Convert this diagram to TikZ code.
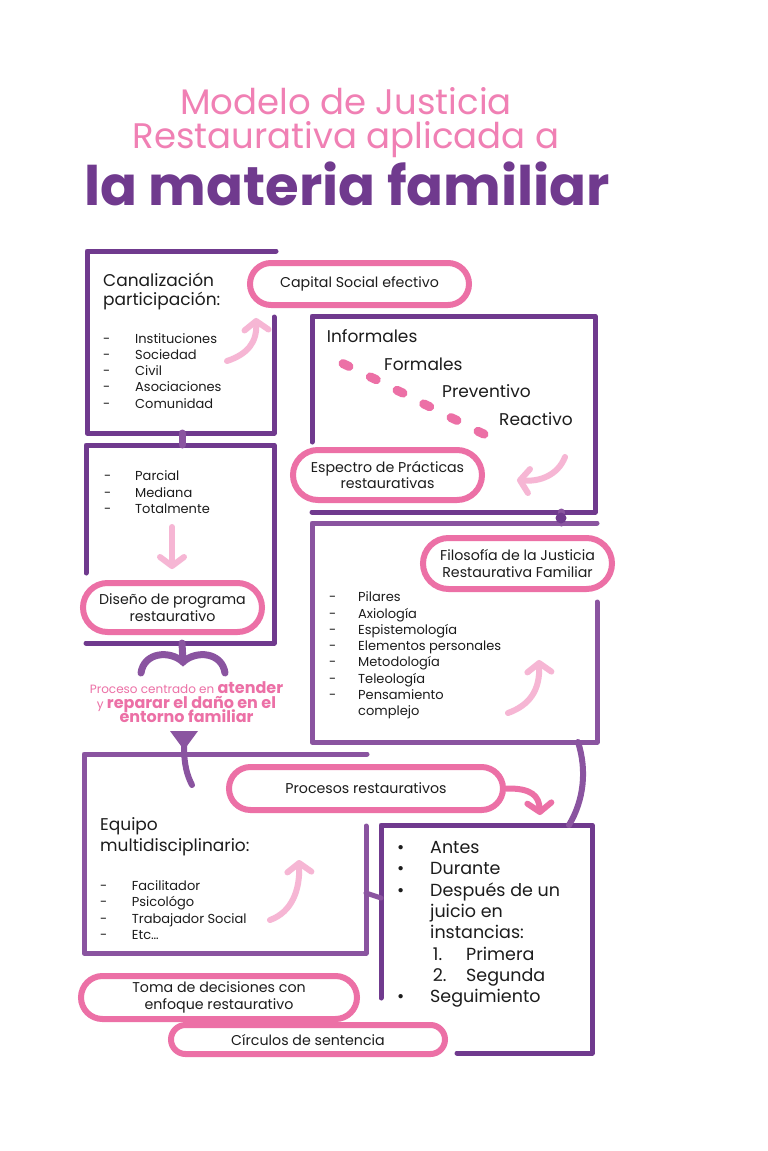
\documentclass[tikz,border=0pt]{standalone}
\usepackage{fontspec}
\setmainfont{Poppins}
\usepackage{tikz}
\usetikzlibrary{arrows.meta}
\definecolor{jrpink}{RGB}{236,112,166}
\definecolor{jrtitle}{RGB}{240,128,180}
\definecolor{jrsoft}{RGB}{246,182,212}
\definecolor{jrpurple}{RGB}{112,58,142}
\definecolor{jrlilac}{RGB}{138,84,160}
\definecolor{jrtext}{RGB}{28,28,28}

\begin{document}
\begin{tikzpicture}[x=1pt, y=-1pt,
    frame/.style={draw=jrpurple, line width=5pt, line cap=round, line join=round},
    lframe/.style={frame, draw=jrlilac},
    link/.style={draw=jrlilac, line width=7pt, line cap=round},
    pill/.style={draw=jrpink, line width=6pt, fill=white, rounded corners=#1, align=center, inner sep=0pt, text=jrtext, font=\fontsize{14.2}{16.5}\selectfont},
    pill/.default=21pt,
    softarrow/.style={draw=jrsoft, line width=6pt, line cap=round, -{Straight Barb[round, length=9pt, width=24pt]}},
    pinkarrow/.style={softarrow, draw=jrpink},
    head/.style={anchor=base west, inner sep=0pt, text=jrtext, font=\fontsize{17}{20}\selectfont},
    entry/.style={anchor=base west, inner sep=0pt, text=jrtext, font=\fontsize{13}{16}\selectfont},
    big/.style={anchor=base west, inner sep=0pt, text=jrtext, font=\fontsize{17.5}{21}\selectfont}
  ]
  \fill[white] (0,0) rectangle (768,1151);
  \useasboundingbox (0,0) rectangle (768,1151);

  % title
  \node[anchor=base, text=jrtitle, text depth=0pt, font=\fontsize{35.5}{38}\selectfont] (t1) at (346,114) {Modelo de Justicia};
  \node[anchor=base, text=jrtitle, text height=25pt, text depth=0pt, font=\fontsize{35.5}{38}\selectfont] (t2) at (346,148) {Restaurativa aplicada a};
  \node[anchor=base, text=jrpurple, text height=40pt, font=\fontsize{54.5}{58}\selectfont\bfseries] (t3) at (347,205) {la materia familiar};

  % frames
  \draw[frame] (276,251) -- (87,251) -- (87,433) -- (274,433) -- (274,317);
  \draw[frame] (86,573) -- (86,445) -- (274,445) -- (274,643) -- (86,643);
  \draw[frame] (312,442) -- (312,316) -- (595,316) -- (595,512) -- (312,512);
  \draw[lframe] (597,602) -- (597,742) -- (312,742) -- (312,523) -- (597,523);
  \draw[lframe] (367,754) -- (84,754) -- (84,953) -- (366,953) -- (366,826);
  \draw[frame] (457,1053) -- (592,1053) -- (592,825) -- (381,825) -- (381,998);

  % links between frames
  \coordinate (a-s) at (182,433);
  \coordinate (b-n) at (182,445);
  \coordinate (b-s) at (182,643);
  \coordinate (br) at (183,662);
  \coordinate (c-s) at (561,512);
  \coordinate (d-n) at (561,523);
  \coordinate (d-s) at (578,742);
  \coordinate (f-n) at (569,825);
  \coordinate (e-e) at (366,893);
  \coordinate (f-w) at (381,898);
  \coordinate (fun) at (184,745);
  \coordinate (e-n) at (192,785);
  \draw[link] (a-s) -- (b-n);
  \draw[link] (b-s) -- (br);
  \draw[link] (c-s) -- (d-n);
  \fill[jrpurple] (561,518) circle[radius=5.5pt];
  \draw[link, line width=5pt] (e-e) -- (f-w);
  \draw[link, line width=6pt] (d-s) .. controls (587,770) and (584,800) .. (f-n);
  \draw[link] (141,673) .. controls (144,652) and (170,650) .. (br)
                        .. controls (196,650) and (222,652) .. (225,673);
  \fill[jrlilac] (170,731) -- (198,731) -- (184,750) -- cycle;
  \draw[link, line width=6pt] (fun) .. controls (184,765) and (187,775) .. (e-n);

  % pills
  \node[pill, minimum width=219pt, minimum height=42pt] (capital) at (359.5,284) {Capital Social efectivo};
  \node[pill=25pt, minimum width=189pt, minimum height=50pt] (espectro) at (387.5,475) {Espectro de Prácticas\\restaurativas};
  \node[pill=24.5pt, minimum width=179pt, minimum height=49pt] (diseno) at (172.5,607.5) {Diseño de programa\\restaurativo};
  \node[pill=25.5pt, minimum width=189pt, minimum height=51pt] (filosofia) at (517.5,563.5) {Filosofía de la Justicia\\Restaurativa Familiar};
  \node[pill=21.5pt, minimum width=274pt, minimum height=43pt] (procesos) at (366,788.5) {Procesos restaurativos};
  \node[pill=21.5pt, minimum width=276pt, minimum height=43pt] (toma) at (219,997.5) {Toma de decisiones con\\enfoque restaurativo};
  \node[pill=14.5pt, minimum width=274pt, minimum height=29pt] (circulos) at (308,1039.5) {Círculos de sentencia};

  % arrows
  \coordinate (sa1) at (227,361);
  \coordinate (sa1e) at (256,318);
  \coordinate (sa2) at (565,457);
  \coordinate (sa2e) at (517,480);
  \coordinate (sa3) at (508,713);
  \coordinate (sa3e) at (539,660);
  \coordinate (sa4) at (270,920);
  \coordinate (sa4e) at (299,860);
  \coordinate (sa5) at (172,527);
  \coordinate (sa5e) at (172,569);
  \coordinate (pa) at (540,815);
  \draw[softarrow] (sa1) .. controls (248,354) and (257,342) .. (sa1e);
  \draw[softarrow] (sa2) .. controls (558,475) and (540,482) .. (sa2e);
  \draw[softarrow] (sa3) .. controls (530,705) and (540,690) .. (sa3e);
  \draw[softarrow] (sa4) .. controls (292,912) and (300,890) .. (sa4e);
  \draw[softarrow] (sa5) -- (sa5e);
  \draw[pinkarrow] (procesos.east) .. controls (532,788) and (539,796) .. (pa);

  % spectrum
  \foreach \x/\y [count=\i] in {346/365,373.3/378.3,400/391.7,426.7/405.3,454/419,481/432.7}
    \draw[jrpink, line width=9pt, line cap=round] (\x-3,\y-1.4) -- (\x+3,\y+1.4);
  \node[head] (inf) at (326.7,342.7) {Informales};
  \node[head] (form) at (384,370) {Formales};
  \node[head] (prev) at (442,397.7) {Preventivo};
  \node[head] (reac) at (499,425.7) {Reactivo};

  % Canalización
  \node[head] (canal1) at (103,286) {Canalización};
  \node[head] (canal2) at (103,305) {participación:};
  \foreach \t [count=\i] in {Instituciones,Sociedad,Civil,Asociaciones,Comunidad}{
    \node[entry] (dA\i) at (103,343+16.3*\i-16.3) {-};
    \node[entry] (iA\i) at (135,343+16.3*\i-16.3) {\t};
  }

  % grado
  \foreach \t [count=\i] in {Parcial,Mediana,Totalmente}{
    \node[entry] (dB\i) at (104,480.7+16.3*\i-16.3) {-};
    \node[entry] (iB\i) at (135,480.7+16.3*\i-16.3) {\t};
  }

  % filosofía
  \foreach \t [count=\i] in {Pilares,Axiología,Espistemología,Elementos personales,Metodología,Teleología,Pensamiento}{
    \node[entry] (dD\i) at (329,601.7+16.3*\i-16.3) {-};
    \node[entry] (iD\i) at (358,601.7+16.3*\i-16.3) {\t};
  }
  \node[entry] (iD8) at (358,715.8) {complejo};

  % equipo
  \node[head] (eq1) at (100,830.7) {Equipo};
  \node[head] (eq2) at (100,851) {multidisciplinario:};
  \foreach \t [count=\i] in {Facilitador,Psicológo,Trabajador Social,Etc\ldots}{
    \node[entry] (dE\i) at (100,890+16.5*\i-16.5) {-};
    \node[entry] (iE\i) at (131.7,890+16.5*\i-16.5) {\t};
  }

  % momentos
  \foreach \t/\y [count=\i] in {Antes/853.3,Durante/874.3,Después de un/896,Seguimiento/1002.5}{
    \node[big, anchor=base] (bF\i) at (400.7,\y) {\textbullet};
    \node[big] (iF\i) at (430,\y) {\t};
  }
  \node[big] (iF5) at (430,917) {juicio en};
  \node[big] (iF6) at (430,938) {instancias:};
  \node[big] (nF1) at (432.7,960) {1.};
  \node[big] (pF1) at (466,960) {Primera};
  \node[big] (nF2) at (432.7,981) {2.};
  \node[big] (pF2) at (466,981) {Segunda};

  % proceso
  \node[anchor=base, inner sep=0pt, text=jrpink, font=\fontsize{12}{14}\selectfont] (pr1) at (186.5,693)
    {Proceso centrado en {\fontsize{16}{14}\selectfont\bfseries atender}};
  \node[anchor=base, inner sep=0pt, text=jrpink, font=\fontsize{12}{14}\selectfont] (pr2) at (186.5,708)
    {y {\fontsize{16}{14}\selectfont\bfseries reparar el daño en el}};
  \node[anchor=base, inner sep=0pt, text=jrpink, font=\fontsize{16}{14}\selectfont\bfseries] (pr3) at (186.5,722)
    {entorno familiar};
\end{tikzpicture}
\end{document}
